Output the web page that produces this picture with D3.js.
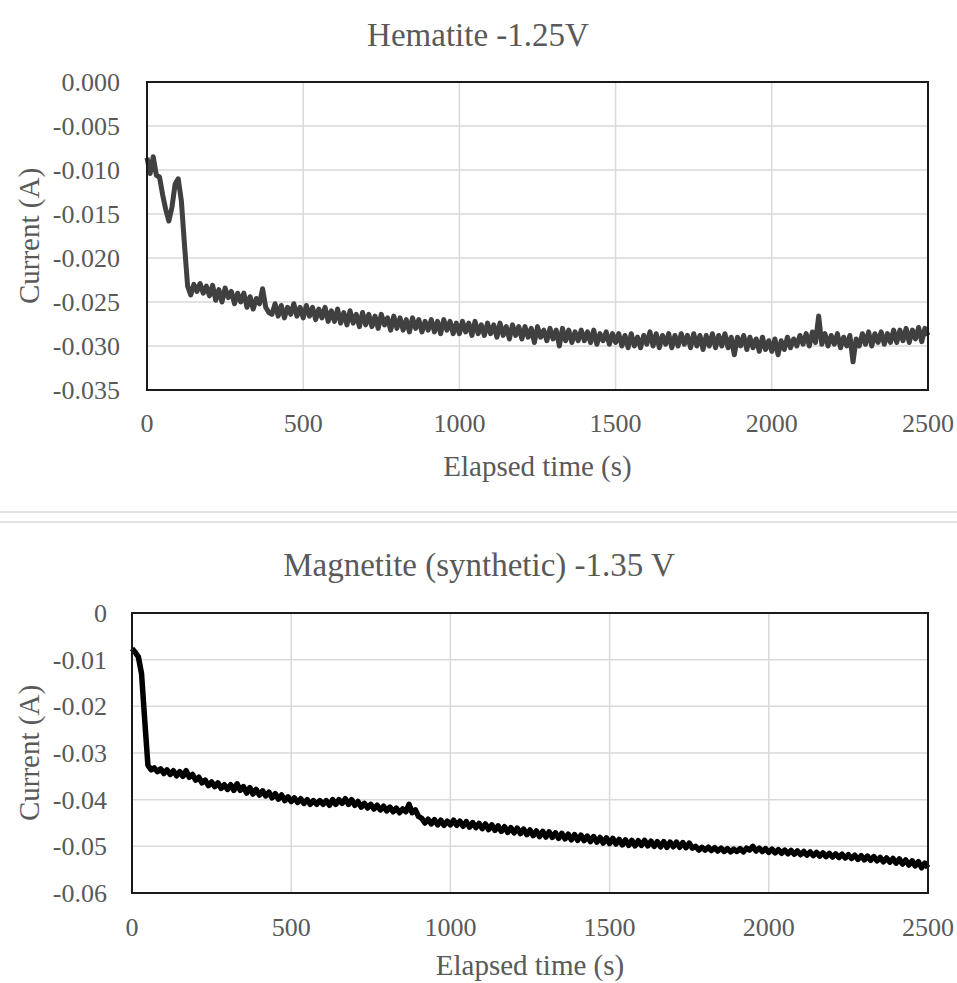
<!DOCTYPE html>
<html><head><meta charset="utf-8">
<script src="https://cdn.jsdelivr.net/npm/d3@7"></script>
<style>
html,body{margin:0;padding:0;background:#fff;}
svg{display:block;}
text{font-family:"Liberation Serif","Times New Roman",serif;fill:#595959;}
</style></head>
<body>
<svg id="chart" width="957" height="983"></svg>
<script>
// ---------- DATA ----------
const sampleStep = 10; // seconds between readings
const xTicks = [0, 500, 1000, 1500, 2000, 2500];
const xTickLabels = ["0", "500", "1000", "1500", "2000", "2500"];

const hematiteTitle = "Hematite -1.25V";
const hematiteYTicks = [0, -0.005, -0.010, -0.015, -0.020, -0.025, -0.030, -0.035];
const hematiteYTickLabels = ["0.000", "-0.005", "-0.010", "-0.015", "-0.020", "-0.025", "-0.030", "-0.035"];
const hematiteCurrent = [
 -0.0086,-0.0104,-0.0085,-0.0106,-0.0108,-0.0128,-0.0145,-0.0158,-0.0142,-0.0116,
 -0.0110,-0.0135,-0.0185,-0.0232,-0.0242,-0.0230,-0.0238,-0.0229,-0.0240,-0.0232,
 -0.0243,-0.0231,-0.0248,-0.0236,-0.0250,-0.0234,-0.0245,-0.0238,-0.0252,-0.0240,
 -0.0250,-0.0240,-0.0256,-0.0244,-0.0258,-0.0246,-0.0252,-0.0235,-0.0256,-0.0262,
 -0.0264,-0.0252,-0.0266,-0.0254,-0.0268,-0.0256,-0.0264,-0.0252,-0.0266,-0.0256,
 -0.0268,-0.0254,-0.0266,-0.0256,-0.0270,-0.0258,-0.0268,-0.0256,-0.0272,-0.0260,
 -0.0272,-0.0258,-0.0274,-0.0262,-0.0276,-0.0260,-0.0274,-0.0264,-0.0278,-0.0262,
 -0.0276,-0.0264,-0.0278,-0.0266,-0.0280,-0.0264,-0.0276,-0.0268,-0.0282,-0.0266,
 -0.0280,-0.0268,-0.0282,-0.0270,-0.0284,-0.0268,-0.0280,-0.0270,-0.0284,-0.0272,
 -0.0282,-0.0270,-0.0284,-0.0272,-0.0286,-0.0270,-0.0282,-0.0272,-0.0286,-0.0274,
 -0.0286,-0.0272,-0.0284,-0.0274,-0.0288,-0.0272,-0.0286,-0.0276,-0.0288,-0.0274,
 -0.0286,-0.0276,-0.0290,-0.0274,-0.0288,-0.0278,-0.0292,-0.0276,-0.0288,-0.0278,
 -0.0292,-0.0278,-0.0290,-0.0280,-0.0296,-0.0278,-0.0290,-0.0282,-0.0294,-0.0280,
 -0.0292,-0.0282,-0.0300,-0.0280,-0.0294,-0.0282,-0.0296,-0.0284,-0.0294,-0.0282,
 -0.0294,-0.0284,-0.0296,-0.0282,-0.0298,-0.0286,-0.0294,-0.0284,-0.0298,-0.0286,
 -0.0296,-0.0286,-0.0300,-0.0288,-0.0302,-0.0286,-0.0300,-0.0290,-0.0302,-0.0288,
 -0.0298,-0.0284,-0.0300,-0.0286,-0.0302,-0.0288,-0.0298,-0.0286,-0.0302,-0.0288,
 -0.0300,-0.0286,-0.0298,-0.0288,-0.0302,-0.0286,-0.0300,-0.0288,-0.0304,-0.0288,
 -0.0300,-0.0286,-0.0302,-0.0288,-0.0300,-0.0286,-0.0302,-0.0290,-0.0310,-0.0290,
 -0.0300,-0.0288,-0.0304,-0.0290,-0.0302,-0.0292,-0.0306,-0.0290,-0.0304,-0.0294,
 -0.0306,-0.0292,-0.0310,-0.0294,-0.0304,-0.0290,-0.0302,-0.0292,-0.0300,-0.0288,
 -0.0298,-0.0286,-0.0300,-0.0284,-0.0296,-0.0266,-0.0298,-0.0286,-0.0300,-0.0288,
 -0.0298,-0.0286,-0.0302,-0.0290,-0.0300,-0.0288,-0.0318,-0.0292,-0.0300,-0.0286,
 -0.0298,-0.0284,-0.0300,-0.0286,-0.0296,-0.0284,-0.0298,-0.0286,-0.0296,-0.0282,
 -0.0296,-0.0282,-0.0294,-0.0280,-0.0296,-0.0282,-0.0292,-0.0279,-0.0295,-0.0280,
 -0.0288
];

const magnetiteTitle = "Magnetite (synthetic) -1.35 V";
const magnetiteYTicks = [0, -0.01, -0.02, -0.03, -0.04, -0.05, -0.06];
const magnetiteYTickLabels = ["0", "-0.01", "-0.02", "-0.03", "-0.04", "-0.05", "-0.06"];
const magnetiteCurrent = [
 -0.0076,-0.0084,-0.0094,-0.0130,-0.0230,-0.0326,-0.0336,-0.0332,-0.0340,-0.0334,
 -0.0344,-0.0336,-0.0346,-0.0338,-0.0349,-0.0340,-0.0350,-0.0338,-0.0352,-0.0346,
 -0.0358,-0.0352,-0.0364,-0.0358,-0.0370,-0.0362,-0.0372,-0.0364,-0.0376,-0.0368,
 -0.0378,-0.0368,-0.0380,-0.0366,-0.0380,-0.0372,-0.0386,-0.0374,-0.0388,-0.0378,
 -0.0390,-0.0381,-0.0392,-0.0384,-0.0396,-0.0387,-0.0399,-0.0390,-0.0402,-0.0394,
 -0.0404,-0.0396,-0.0406,-0.0398,-0.0408,-0.0400,-0.0410,-0.0402,-0.0410,-0.0402,
 -0.0410,-0.0402,-0.0412,-0.0400,-0.0410,-0.0400,-0.0408,-0.0398,-0.0410,-0.0400,
 -0.0412,-0.0404,-0.0416,-0.0408,-0.0418,-0.0410,-0.0420,-0.0412,-0.0422,-0.0414,
 -0.0424,-0.0416,-0.0426,-0.0418,-0.0428,-0.0420,-0.0426,-0.0410,-0.0428,-0.0422,
 -0.0436,-0.0440,-0.0450,-0.0442,-0.0452,-0.0443,-0.0454,-0.0444,-0.0455,-0.0446,
 -0.0454,-0.0444,-0.0455,-0.0446,-0.0457,-0.0447,-0.0459,-0.0449,-0.0460,-0.0451,
 -0.0462,-0.0452,-0.0464,-0.0454,-0.0466,-0.0456,-0.0468,-0.0458,-0.0470,-0.0460,
 -0.0471,-0.0461,-0.0473,-0.0463,-0.0475,-0.0465,-0.0477,-0.0467,-0.0479,-0.0468,
 -0.0480,-0.0469,-0.0481,-0.0471,-0.0483,-0.0472,-0.0484,-0.0474,-0.0486,-0.0475,
 -0.0487,-0.0476,-0.0488,-0.0478,-0.0490,-0.0479,-0.0491,-0.0481,-0.0493,-0.0482,
 -0.0494,-0.0483,-0.0495,-0.0485,-0.0497,-0.0486,-0.0498,-0.0487,-0.0499,-0.0488,
 -0.0498,-0.0487,-0.0499,-0.0489,-0.0500,-0.0490,-0.0501,-0.0490,-0.0502,-0.0491,
 -0.0501,-0.0491,-0.0502,-0.0492,-0.0503,-0.0493,-0.0504,-0.0500,-0.0508,-0.0502,
 -0.0508,-0.0502,-0.0509,-0.0503,-0.0510,-0.0504,-0.0511,-0.0505,-0.0512,-0.0506,
 -0.0511,-0.0505,-0.0512,-0.0504,-0.0508,-0.0500,-0.0510,-0.0504,-0.0511,-0.0505,
 -0.0513,-0.0506,-0.0514,-0.0507,-0.0515,-0.0508,-0.0516,-0.0509,-0.0517,-0.0510,
 -0.0518,-0.0511,-0.0519,-0.0512,-0.0520,-0.0513,-0.0521,-0.0514,-0.0522,-0.0515,
 -0.0523,-0.0516,-0.0524,-0.0517,-0.0525,-0.0518,-0.0526,-0.0519,-0.0528,-0.0520,
 -0.0529,-0.0521,-0.0530,-0.0522,-0.0531,-0.0524,-0.0533,-0.0525,-0.0534,-0.0526,
 -0.0536,-0.0527,-0.0538,-0.0529,-0.0540,-0.0531,-0.0542,-0.0533,-0.0546,-0.0536,
 -0.0546
];

const xAxisTitle = "Elapsed time (s)";
const yAxisTitle = "Current (A)";

// ---------- DRAW ----------
const svg = d3.select("#chart");

function drawPanel(cfg) {
  const x = d3.scaleLinear().domain([0, 2500]).range([cfg.left, cfg.right]);
  const y = d3.scaleLinear().domain([cfg.yTicks[cfg.yTicks.length - 1], 0]).range([cfg.bottom, cfg.top]);
  const g = svg.append("g");

  // gridlines
  g.append("g").selectAll("line").data(cfg.yTicks).join("line")
    .attr("x1", cfg.left).attr("x2", cfg.right)
    .attr("y1", d => y(d)).attr("y2", d => y(d))
    .attr("stroke", "#d9d9d9").attr("stroke-width", 1.5);
  g.append("g").selectAll("line").data(xTicks).join("line")
    .attr("x1", d => x(d)).attr("x2", d => x(d))
    .attr("y1", cfg.top).attr("y2", cfg.bottom)
    .attr("stroke", "#d9d9d9").attr("stroke-width", 1.5);

  // data line
  const line = d3.line().x((d, i) => x(i * sampleStep)).y(d => y(d));
  g.append("path").datum(cfg.values)
    .attr("d", line).attr("fill", "none")
    .attr("stroke", cfg.color).attr("stroke-width", cfg.lineWidth)
    .attr("stroke-linejoin", "round").attr("stroke-linecap", "butt");

  // border
  g.append("rect").attr("x", cfg.left).attr("y", cfg.top)
    .attr("width", cfg.right - cfg.left).attr("height", cfg.bottom - cfg.top)
    .attr("fill", "none").attr("stroke", "#1a1a1a").attr("stroke-width", 2);

  // y tick labels
  g.append("g").selectAll("text").data(cfg.yTicks).join("text")
    .attr("x", cfg.yLabelX).attr("y", d => y(d)).attr("dy", "0.35em")
    .attr("text-anchor", "end").attr("font-size", 26)
    .text((d, i) => cfg.yTickLabels[i]);

  // x tick labels
  g.append("g").selectAll("text").data(xTicks).join("text")
    .attr("x", d => x(d)).attr("y", cfg.bottom + cfg.xLabelDy)
    .attr("text-anchor", "middle").attr("font-size", 26)
    .text((d, i) => xTickLabels[i]);

  // titles
  g.append("text").attr("x", cfg.titleX).attr("y", cfg.titleY)
    .attr("text-anchor", "middle").attr("font-size", 33).text(cfg.title);
  g.append("text").attr("x", (cfg.left + cfg.right) / 2).attr("y", cfg.bottom + cfg.xTitleDy)
    .attr("text-anchor", "middle").attr("font-size", 29).text(xAxisTitle);
  g.append("text")
    .attr("transform", `translate(${cfg.yTitleX},${(cfg.top + cfg.bottom) / 2}) rotate(-90)`)
    .attr("text-anchor", "middle").attr("font-size", 29).text(yAxisTitle);
}

drawPanel({
  title: hematiteTitle, values: hematiteCurrent,
  yTicks: hematiteYTicks, yTickLabels: hematiteYTickLabels,
  left: 147, right: 928, top: 82, bottom: 390,
  yLabelX: 120, xLabelDy: 42, xTitleDy: 86, yTitleX: 39,
  titleX: 478, titleY: 46,
  color: "#404040", lineWidth: 5
});

// separator lines
svg.append("line").attr("x1", 0).attr("x2", 957).attr("y1", 512).attr("y2", 512)
  .attr("stroke", "#d9d9d9").attr("stroke-width", 1.5);
svg.append("line").attr("x1", 0).attr("x2", 957).attr("y1", 522).attr("y2", 522)
  .attr("stroke", "#d9d9d9").attr("stroke-width", 1.5);

drawPanel({
  title: magnetiteTitle, values: magnetiteCurrent,
  yTicks: magnetiteYTicks, yTickLabels: magnetiteYTickLabels,
  left: 132, right: 928, top: 613, bottom: 893,
  yLabelX: 107, xLabelDy: 43, xTitleDy: 82, yTitleX: 39,
  titleX: 479, titleY: 576,
  color: "#000000", lineWidth: 5.5
});
</script>
</body></html>
